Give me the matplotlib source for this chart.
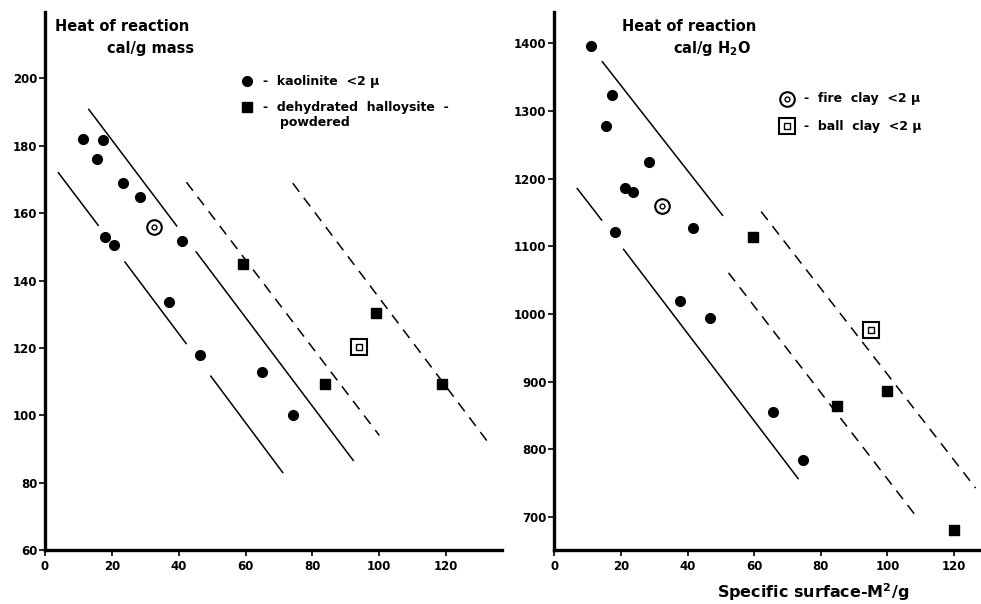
import matplotlib.pyplot as plt

plt.rcParams['font.family'] = 'DejaVu Sans'
plt.rcParams['font.weight'] = 'bold'
plt.rcParams['mathtext.default'] = 'bf'

# left panel: heat of reaction per g mass
left_kao_x = [11.3, 17.3, 15.6, 23.4, 28.4, 17.8, 20.7, 41.0, 37.2, 46.5, 65.0, 74.1]
left_kao_y = [182.0, 181.7, 176.0, 168.8, 164.7, 152.9, 150.6, 151.6, 133.6, 117.9, 112.7, 100.1]
left_hal_x = [59.2, 83.8, 98.9, 118.7]
left_hal_y = [144.8, 109.4, 130.4, 109.4]
left_fire_x, left_fire_y = [32.5], [155.9]
left_ball_x, left_ball_y = [93.8], [120.3]

left_solid = [
    [(13.1, 39.4), (190.8, 156.2)], [(45.2, 92.2), (148.5, 86.6)],
    [(4.0, 15.9), (172.0, 156.4)], [(23.9, 42.2), (145.5, 121.3)], [(49.6, 71.1), (111.6, 83.0)],
]
left_dashed = [
    [(42.3, 100.0), (169.2, 94.0)],
    [(74.1, 132.5), (168.9, 92.0)],
]

# right panel: heat of reaction per g H2O
right_kao_x = [10.9, 17.4, 15.5, 28.5, 21.2, 23.5, 18.3, 41.5, 37.6, 46.6, 65.7, 74.8]
right_kao_y = [1396, 1324, 1278, 1225, 1186, 1181, 1122, 1127, 1020, 995, 856, 785]
right_hal_x = [59.7, 84.9, 100.0, 120.0]
right_hal_y = [1114, 864, 886, 681]
right_fire_x, right_fire_y = [32.4], [1159]
right_ball_x, right_ball_y = [95.2], [977]

right_solid = [
    [(14.4, 50.5), (1373, 1146)],
    [(6.9, 14.2), (1185.5, 1139)], [(20.8, 73.2), (1095.7, 757)],
]
right_dashed = [
    [(52.3, 109.0), (1061, 699)],
    [(62.1, 126.5), (1151.5, 743)],
]

x_ticks = [0, 20, 40, 60, 80, 100, 120]
left_yticks = [60, 80, 100, 120, 140, 160, 180, 200]
right_yticks = [700, 800, 900, 1000, 1100, 1200, 1300, 1400]


def fire_marker(ax, x, y, **kw):
    ax.plot(x, y, 'o', ms=10.5, mfc='none', mec='black', mew=1.5, **kw)
    ax.plot(x, y, 'o', ms=3.5, mfc='none', mec='black', mew=1.0, **kw)


def ball_marker(ax, x, y, **kw):
    ax.plot(x, y, 's', ms=11, mfc='none', mec='black', mew=1.5, **kw)
    ax.plot(x, y, 's', ms=4, mfc='none', mec='black', mew=1.0, **kw)


def style_axis(ax, xlim, ylim, yticks):
    ax.set_xlim(*xlim)
    ax.set_ylim(*ylim)
    ax.set_xticks(x_ticks)
    ax.set_yticks(yticks)
    for s in ['top', 'right']:
        ax.spines[s].set_visible(False)
    for s in ['left', 'bottom']:
        ax.spines[s].set_linewidth(2.4)
    ax.tick_params(direction='out', length=4, width=1.2, labelsize=8.5, pad=1.5)
    ax.tick_params(axis='x', pad=3)
    for lab in ax.get_xticklabels() + ax.get_yticklabels():
        lab.set_fontweight('bold')


fig = plt.figure(figsize=(9.81, 6.04), dpi=100)
ax1 = fig.add_axes([45 / 981, 54 / 604, 456.7 / 981, 538.3 / 604])
ax2 = fig.add_axes([554.3 / 981, 54 / 604, 426.7 / 981, 538.3 / 604])

# left
for xs, ys in left_solid:
    ax1.plot(xs, ys, color='black', lw=1.1)
for xs, ys in left_dashed:
    ax1.plot(xs, ys, color='black', lw=1.1, dashes=(7, 5))
ax1.plot(left_kao_x, left_kao_y, 'o', color='black', ms=7)
ax1.plot(left_hal_x, left_hal_y, 's', color='black', ms=7)
fire_marker(ax1, left_fire_x, left_fire_y)
ball_marker(ax1, left_ball_x, left_ball_y)
style_axis(ax1, (0, 136.6), (60, 219.8), left_yticks)

ax1.text(0.022, 0.972, 'Heat of reaction', transform=ax1.transAxes, fontsize=10.5,
         fontweight='bold', va='center')
ax1.text(0.136, 0.931, 'cal/g mass', transform=ax1.transAxes, fontsize=10.5,
         fontweight='bold', va='center')
ax1.plot([0.4417], [0.8712], 'o', color='black', ms=7, transform=ax1.transAxes)
ax1.plot([0.4417], [0.8224], 's', color='black', ms=7, transform=ax1.transAxes)
ax1.text(0.477, 0.8712, '-  kaolinite  <2 μ', transform=ax1.transAxes, fontsize=9,
         fontweight='bold', va='center')
ax1.text(0.477, 0.8224, '-  dehydrated  halloysite  -', transform=ax1.transAxes, fontsize=9,
         fontweight='bold', va='center')
ax1.text(0.5146, 0.795, 'powdered', transform=ax1.transAxes, fontsize=9,
         fontweight='bold', va='center')

# right
for xs, ys in right_solid:
    ax2.plot(xs, ys, color='black', lw=1.1)
for xs, ys in right_dashed:
    ax2.plot(xs, ys, color='black', lw=1.1, dashes=(7, 5))
ax2.plot(right_kao_x, right_kao_y, 'o', color='black', ms=7)
ax2.plot(right_hal_x, right_hal_y, 's', color='black', ms=7)
fire_marker(ax2, right_fire_x, right_fire_y)
ball_marker(ax2, right_ball_x, right_ball_y)
style_axis(ax2, (0, 128.1), (651.5, 1446.8), right_yticks)

ax2.text(0.158, 0.972, 'Heat of reaction', transform=ax2.transAxes, fontsize=10.5,
         fontweight='bold', va='center')
ax2.text(0.2775, 0.931, 'cal/g H$_2$O', transform=ax2.transAxes, fontsize=10.5,
         fontweight='bold', va='center')
fire_marker(ax2, [0.5446], [0.8383], transform=ax2.transAxes)
ball_marker(ax2, [0.5446], [0.7876], transform=ax2.transAxes)
ax2.text(0.585, 0.8383, '-  fire  clay  <2 μ', transform=ax2.transAxes, fontsize=9,
         fontweight='bold', va='center')
ax2.text(0.585, 0.7876, '-  ball  clay  <2 μ', transform=ax2.transAxes, fontsize=9,
         fontweight='bold', va='center')

fig.text(717 / 981, 6 / 604, 'Specific surface-M$^2$/g', fontsize=11.5,
         fontweight='bold', ha='left', va='baseline')

fig.savefig('out.png', dpi=100)
